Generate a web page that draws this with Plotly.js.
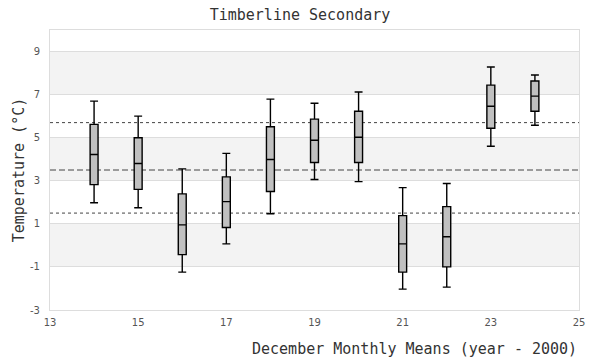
<!DOCTYPE html>
<html><head><meta charset="utf-8">
<script src="https://cdn.plot.ly/plotly-3.0.1.min.js"></script>
<style>html,body{margin:0;padding:0;background:#fff}</style>
</head><body>
<div id="chart" style="width:600px;height:360px"></div>
<script>
const years = [14, 15, 16, 17, 18, 19, 20, 21, 22, 23, 24];
const lowerWhisker = [1.98, 1.75, -1.24, 0.07, 1.47, 3.06, 2.96, -2.03, -1.94, 4.60, 5.58];
const q1Values     = [2.82, 2.60, -0.43, 0.83, 2.50, 3.85, 3.85, -1.24, -1.00, 5.44, 6.23];
const medianValues = [4.22, 3.80, 0.95, 2.03, 3.99, 4.88, 5.02, 0.07, 0.40, 6.46, 6.93];
const q3Values     = [5.62, 5.00, 2.39, 3.18, 5.51, 5.86, 6.23, 1.38, 1.80, 7.44, 7.63];
const upperWhisker = [6.70, 6.00, 3.55, 4.27, 6.79, 6.60, 7.12, 2.68, 2.87, 8.28, 7.91];
const overallMean = 3.5;
const upperBand = 5.7;
const lowerBand = 1.5;
const xTicks = [13, 15, 17, 19, 21, 23, 25];
const yTicks = [-3, -1, 1, 3, 5, 7, 9];
const bandRanges = [[-1, 1], [3, 5], [7, 9]];

const mono = "DejaVu Sans Mono, monospace";
const sans = "DejaVu Sans, sans-serif";

const shapes = bandRanges.map(r => ({
  type: 'rect', xref: 'paper', yref: 'y', x0: 0, x1: 1, y0: r[0], y1: r[1],
  fillcolor: '#f3f3f3', line: {width: 0}, layer: 'below'
}));
[[overallMean, '6px,3px'], [upperBand, 'dot'], [lowerBand, 'dot']].forEach(([v, d]) => {
  shapes.push({type: 'line', xref: 'paper', yref: 'y', x0: 0, x1: 1, y0: v, y1: v,
    line: {color: '#444', width: 1, dash: d}, layer: 'below'});
});

const trace = {
  type: 'box',
  x: years,
  lowerfence: lowerWhisker,
  q1: q1Values,
  median: medianValues,
  q3: q3Values,
  upperfence: upperWhisker,
  width: 0.18,
  whiskerwidth: 1,
  fillcolor: '#c0c0c0',
  line: {color: '#000', width: 1.4},
  boxpoints: false,
  hoverinfo: 'skip',
  showlegend: false
};

const layout = {
  width: 600, height: 360,
  margin: {l: 50, r: 21, t: 30, b: 50},
  paper_bgcolor: '#fff', plot_bgcolor: '#fff',
  title: {text: 'Timberline Secondary', font: {family: mono, size: 15, color: '#333'}, x: 0.5, xanchor: 'center', y: 0.975, yanchor: 'top'},
  xaxis: {
    range: [13, 25], tickvals: xTicks, ticktext: xTicks.map(String),
    showgrid: false, zeroline: false, showline: true, mirror: true, linecolor: '#ddd', linewidth: 1,
    ticks: '', ticklabelstandoff: 3, tickfont: {family: sans, size: 10, color: '#555'}
  },
  yaxis: {
    range: [-3, 10], tickvals: yTicks, ticktext: yTicks.map(String),
    showgrid: true, gridcolor: '#ddd', gridwidth: 1, zeroline: false,
    showline: true, mirror: true, linecolor: '#ddd', linewidth: 1,
    ticks: '', ticklen: 0, ticklabelstandoff: 7, tickfont: {family: sans, size: 10, color: '#555'},
    title: {text: 'Temperature (°C)', font: {family: mono, size: 15, color: '#333'}, standoff: 1}
  },
  shapes: shapes,
  annotations: [{
    text: 'December Monthly Means (year - 2000)', xref: 'paper', yref: 'paper',
    x: 1, y: 0, xanchor: 'right', yanchor: 'top', yshift: -28, showarrow: false,
    font: {family: mono, size: 15, color: '#333'}
  }]
};

Plotly.newPlot('chart', [trace], layout, {staticPlot: true, displayModeBar: false});
</script>
</body></html>
